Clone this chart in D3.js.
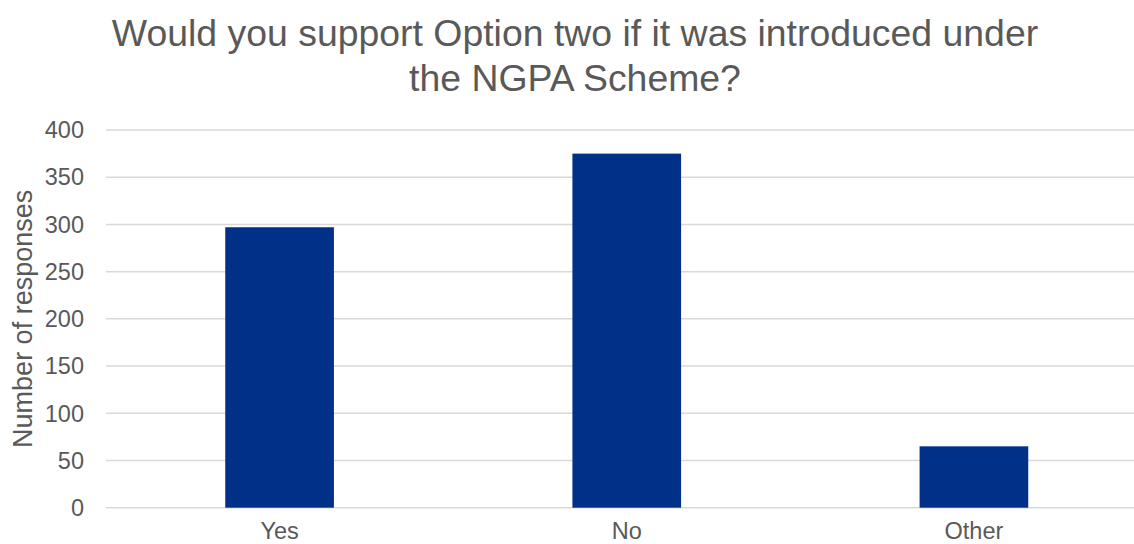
<!DOCTYPE html>
<html>
<head>
<meta charset="utf-8">
<script src="https://cdn.jsdelivr.net/npm/d3@7"></script>
<style>
  html, body { margin: 0; padding: 0; background: #ffffff; }
  svg { display: block; }
  text { font-family: "Liberation Sans", Arial, sans-serif; fill: #595959; }
</style>
</head>
<body>
<svg id="chart" width="1134" height="544"></svg>
<script>
const categories = ["Yes", "No", "Other"];
const values = [297, 375, 65];
const yTicks = [0, 50, 100, 150, 200, 250, 300, 350, 400];
const titleLines = ["Would you support Option two if it was introduced under", "the NGPA Scheme?"];
const yAxisTitle = "Number of responses";

const svg = d3.select("#chart");
const plot = { left: 106, right: 1147.5, top: 130, bottom: 507.7 };

const x = d3.scaleBand()
  .domain(categories)
  .range([plot.left, plot.right])
  .paddingInner(0.687)
  .paddingOuter(0.3435);

const y = d3.scaleLinear()
  .domain([0, 400])
  .range([plot.bottom, plot.top]);

// gridlines
svg.append("g")
  .selectAll("line")
  .data(yTicks)
  .join("line")
  .attr("x1", plot.left)
  .attr("x2", plot.right)
  .attr("y1", d => y(d))
  .attr("y2", d => y(d))
  .attr("stroke", "#d9d9d9")
  .attr("stroke-width", 1.5);

// y tick labels
svg.append("g")
  .selectAll("text")
  .data(yTicks)
  .join("text")
  .attr("x", 84)
  .attr("y", d => y(d))
  .attr("dy", "0.35em")
  .attr("text-anchor", "end")
  .attr("font-size", 23.5)
  .text(d => d);

// bars
svg.append("g")
  .selectAll("rect")
  .data(categories)
  .join("rect")
  .attr("x", d => x(d))
  .attr("width", x.bandwidth())
  .attr("y", (d, i) => y(values[i]))
  .attr("height", (d, i) => y(0) - y(values[i]))
  .attr("fill", "#003087");

// x labels
svg.append("g")
  .selectAll("text")
  .data(categories)
  .join("text")
  .attr("x", d => x(d) + x.bandwidth() / 2)
  .attr("y", 538.5)
  .attr("text-anchor", "middle")
  .attr("font-size", 23.5)
  .text(d => d);

// y axis title
svg.append("text")
  .attr("transform", `translate(32, ${(plot.top + plot.bottom) / 2}) rotate(-90)`)
  .attr("text-anchor", "middle")
  .attr("font-size", 27)
  .text(yAxisTitle);

// title
svg.append("g")
  .selectAll("text")
  .data(titleLines)
  .join("text")
  .attr("x", 575)
  .attr("y", (d, i) => 46 + i * 45)
  .attr("text-anchor", "middle")
  .attr("font-size", 37.4)
  .text(d => d);
</script>
</body>
</html>
